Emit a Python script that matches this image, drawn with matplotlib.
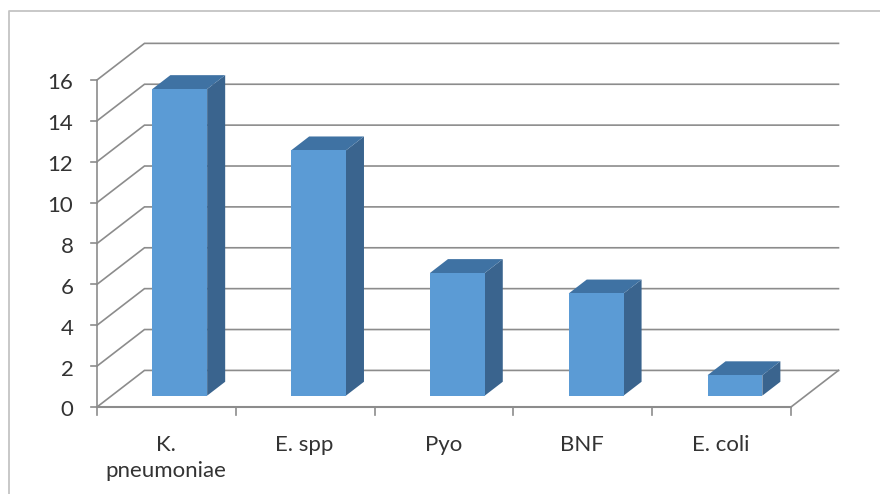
import matplotlib
matplotlib.use("Agg")
import matplotlib.pyplot as plt

categories = ["K.\npneumoniae", "E. spp", "Pyo", "BNF", "E. coli"]
counts = [15, 12, 6, 5, 1]
y_ticks = [0, 2, 4, 6, 8, 10, 12, 14, 16]

GRID = "#8c8c8c"
FRONT = "#5b9bd5"
TOP = "#3f72a3"
SIDE = "#3a648e"
TEXT = "#333333"

# oblique 3D look: full depth of the chart box in data units
DEPTH_X = 0.342
DEPTH_Y = 1.79
BAR_WIDTH = 0.395
BAR_NEAR = 0.31
BAR_FAR = 0.69

plt.rcParams["font.family"] = ["Lato", "DejaVu Sans"]


# moves a point back into the chart box, depth goes from 0 to 1
def project(x, y, depth):
    return x + depth * DEPTH_X, y + depth * DEPTH_Y


def draw_bar(ax, center, value):
    left = center - BAR_WIDTH / 2
    right = center + BAR_WIDTH / 2
    corners = [
        project(left, 0, BAR_NEAR),
        project(right, 0, BAR_NEAR),
        project(right, value, BAR_NEAR),
        project(left, value, BAR_NEAR),
    ]
    top = [
        project(left, value, BAR_NEAR),
        project(right, value, BAR_NEAR),
        project(right, value, BAR_FAR),
        project(left, value, BAR_FAR),
    ]
    side = [
        project(right, 0, BAR_NEAR),
        project(right, 0, BAR_FAR),
        project(right, value, BAR_FAR),
        project(right, value, BAR_NEAR),
    ]
    for points, color in [(side, SIDE), (top, TOP), (corners, FRONT)]:
        xs, ys = zip(*points)
        ax.fill(xs, ys, color=color, lw=0, zorder=3)


fig = plt.figure(figsize=(8.8, 4.94), dpi=100)
ax = fig.add_axes([0, 0, 1, 1])
ax.axis("off")

# one category is 138.8 px wide, one count is 20.44 px high
ax.set_xlim(-97 / 138.8, 783 / 138.8)
ax.set_ylim(-87 / 20.44, 407 / 20.44)

# outer chart frame, runs off the right and bottom edges
ax.plot([9 / 880, 9 / 880, 1], [0, 1 - 11 / 494, 1 - 11 / 494],
        transform=ax.transAxes, color="#c4c4c4", lw=1.3, zorder=1)

n = len(categories)
for tick in y_ticks:
    bx, by = project(0, tick, 1)
    ex, ey = project(n, tick, 1)
    ax.plot([0, bx, ex], [tick, by, ey], color=GRID, lw=1.2, zorder=2,
            solid_joinstyle="miter")
    ax.plot([-0.045, 0], [tick, tick], color=GRID, lw=1.2, zorder=2)
    # labels sit slightly below their tick
    ax.text(-0.17, tick - 0.17, str(tick), ha="right", va="center",
            fontsize=16, color=TEXT)

# axis lines and the right edge of the floor
ax.plot([0, 0], [0, y_ticks[-1]], color=GRID, lw=1.2, zorder=2)
ax.plot([0, n], [0, 0], color=GRID, lw=1.5, zorder=2)
rx, ry = project(n, 0, 1)
ax.plot([n, rx], [0, ry], color=GRID, lw=1.2, zorder=2)
for i in range(n + 1):
    ax.plot([i, i], [0, -0.4], color=GRID, lw=1.2, zorder=2)

for i, value in enumerate(counts):
    draw_bar(ax, i + 0.49, value)

for i, label in enumerate(categories):
    ax.text(i + 0.495, -1.36, label, ha="center", va="top", fontsize=16,
            color=TEXT, linespacing=1.36)

fig.savefig("out.png", dpi=100)
